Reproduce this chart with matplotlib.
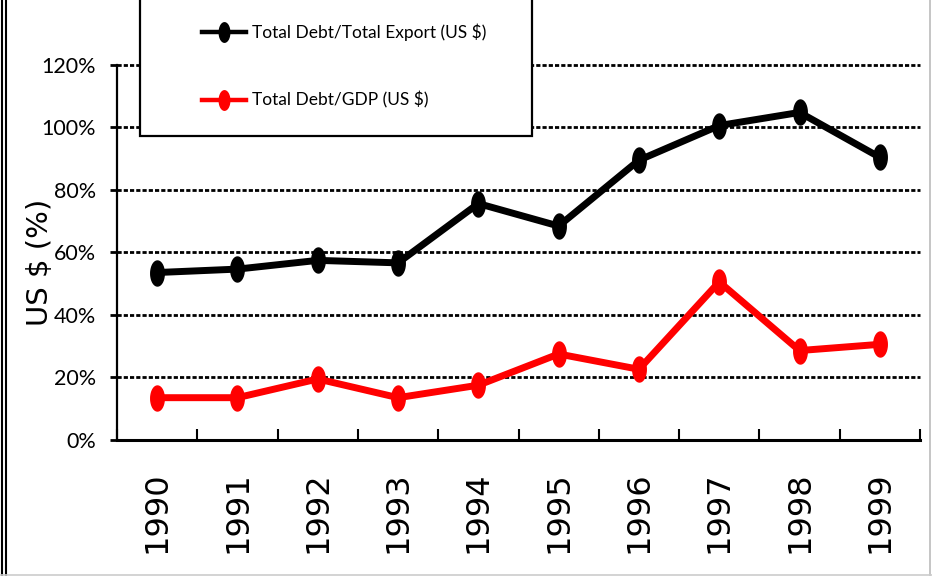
import matplotlib
matplotlib.use("Agg")
import matplotlib.pyplot as plt
from matplotlib.path import Path
from matplotlib.lines import Line2D
from matplotlib.patches import Rectangle
import numpy as np

years = ["1990", "1991", "1992", "1993", "1994", "1995", "1996", "1997", "1998", "1999"]
debt_export = [53.5, 54.6, 57.4, 56.6, 75.6, 68.4, 89.5, 100.6, 104.8, 90.4]
debt_gdp = [13.4, 13.4, 19.4, 13.4, 17.4, 27.4, 22.5, 50.5, 28.5, 30.5]
series_labels = ["Total Debt/Total Export (US $)", "Total Debt/GDP (US $)"]
series_colors = ["#000000", "#ff0000"]
yticks = [0, 20, 40, 60, 80, 100, 120]
ytick_labels = ["0%", "20%", "40%", "60%", "80%", "100%", "120%"]

plt.rcParams['lines.scale_dashes'] = False
narrow = ['Lato', 'DejaVu Sans']

W, H = 932, 576
fig = plt.figure(figsize=(W / 100, H / 100), dpi=100)
L, R, T, B = 117, 920, 65, 439.5
ax = fig.add_axes([L / W, 1 - B / H, (R - L) / W, (B - T) / H])

# ellipse marker
t = np.linspace(0, 2 * np.pi, 60)
ell = Path(np.column_stack([0.27 * np.cos(t), 0.5 * np.sin(t)]), closed=True)

x = np.arange(len(years))
for vals, c in zip([debt_export, debt_gdp], series_colors):
    ax.plot(x, vals, color=c, lw=5, marker=ell, markersize=18, zorder=3,
            solid_joinstyle='round')

ax.set_xlim(-0.5, len(years) - 0.5)
ax.set_ylim(0, 120)
ax.set_yticks(yticks)
ax.set_yticklabels(ytick_labels, family=narrow, fontsize=15.5)
for yv in yticks[1:]:
    ax.axhline(yv, color='black', lw=2.0, linestyle=(0, (3, 1.5)), zorder=1,
               clip_on=False)

ax.set_xticks(x)
ax.set_xticklabels(years, rotation=90, fontsize=23, family='DejaVu Sans')
ax.set_xticks(np.arange(-0.5, len(years)), minor=True)
ax.tick_params(axis='x', which='major', length=0, pad=23)
ax.tick_params(axis='x', which='minor', direction='in', length=8, width=1.5)
ax.tick_params(axis='y', direction='out', length=5, width=2, pad=10)

for s in ['top', 'right']:
    ax.spines[s].set_visible(False)
ax.spines['left'].set_linewidth(1.6)
ax.spines['bottom'].set_linewidth(2.2)

ax.set_ylabel("US $ (%)", fontsize=21, family='DejaVu Sans')
ax.yaxis.set_label_coords(-0.078, 0.474)

# legend box (manual)
fig.add_artist(Rectangle((140 / W, 1 - 136 / H), (532 - 140) / W, 150 / H,
                         transform=fig.transFigure, facecolor='white',
                         edgecolor='black', lw=1.6, zorder=5))
rows = [32, 100]
for lab, c, ry in zip(series_labels, series_colors, rows):
    yy = 1 - ry / H
    fig.add_artist(Line2D([202 / W, 246 / W], [yy, yy], transform=fig.transFigure,
                          color=c, lw=3.2, zorder=6))
    fig.add_artist(Line2D([224 / W], [yy], transform=fig.transFigure, color=c,
                          marker=ell, markersize=14, lw=0, zorder=7))
    fig.text(252 / W, yy, lab, family=narrow, fontsize=12.5, va='center', ha='left',
             zorder=7)

# figure border
fig.add_artist(Line2D([1.5 / W, 1.5 / W], [0, 1], transform=fig.transFigure, color='black', lw=1.5))
fig.add_artist(Line2D([5.5 / W, 5.5 / W], [0, 1], transform=fig.transFigure, color='black', lw=1.5))
fig.add_artist(Line2D([929.5 / W, 929.5 / W], [0, 1], transform=fig.transFigure, color='#bbbbbb', lw=1.2))
fig.add_artist(Line2D([0, 1], [1.5 / H, 1.5 / H], transform=fig.transFigure, color='#cccccc', lw=1.2))

fig.savefig("out.png", dpi=100)
